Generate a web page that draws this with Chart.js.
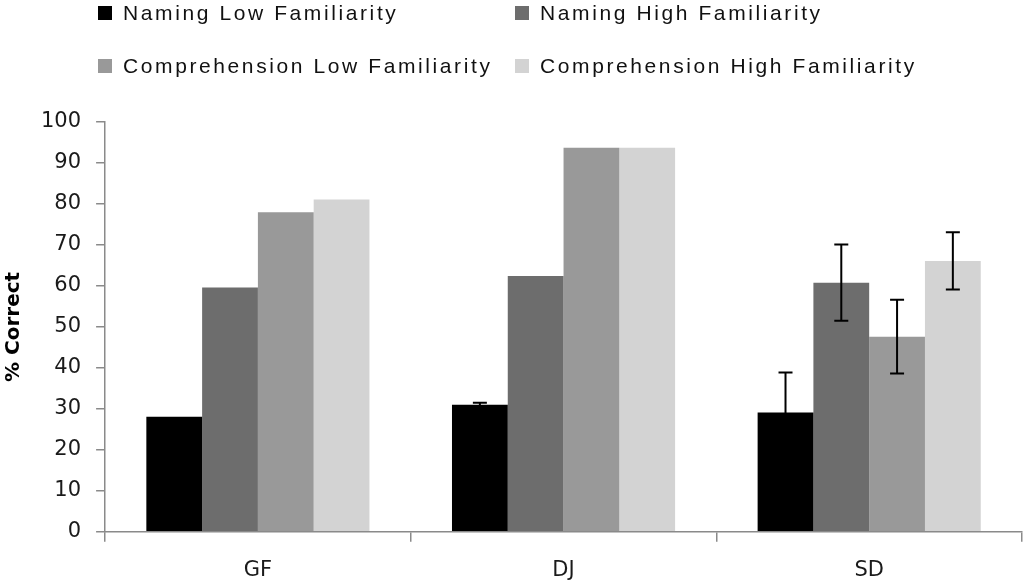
<!DOCTYPE html>
<html>
<head>
<meta charset="utf-8">
<script src="https://cdn.jsdelivr.net/npm/chart.js"></script>
<style>
  body { margin: 0; background: #fff; }
  #wrap { position: relative; width: 1026px; height: 580px; }
  #legend { position: absolute; left: 98px; top: 0; width: 920px;
            font-family: "Liberation Sans", sans-serif; font-size: 21px; color: #111; letter-spacing: 2.6px; }
  .item { position: absolute; display: flex; align-items: center; white-space: nowrap; }
  .box { width: 14px; height: 14px; margin-right: 11px; }
</style>
</head>
<body>
<div id="wrap">
  <canvas id="myChart" width="1026" height="580"></canvas>
  <div id="legend"></div>
</div>
<script>
// chart values
const categories = ["GF", "DJ", "SD"];
const seriesNames = ["Naming Low Familiarity", "Naming High Familiarity",
                     "Comprehension Low Familiarity", "Comprehension High Familiarity"];
const namingLow = [28.1, 31.0, 29.1];
const namingHigh = [59.6, 62.4, 60.8];
const compLow = [78.0, 93.7, 47.6];
const compHigh = [81.1, 93.7, 66.1];
// error bars (+/-), SD only (plus a tiny one on DJ)
const errNamingLow = [0, 0.5, 9.8];
const errNamingHigh = [0, 0, 9.3];
const errCompLow = [0, 0, 9.0];
const errCompHigh = [0, 0, 7.0];
const yTicks = { min: 0, max: 100, step: 10 };

const colors = ["#000000", "#6d6d6d", "#999999", "#d3d3d3"];
const values = [namingLow, namingHigh, compLow, compHigh];
const errors = [errNamingLow, errNamingHigh, errCompLow, errCompHigh];

// legend, two rows by two columns
const legendPos = [[0, 1], [417, 1], [0, 54], [417, 54]];
const legendEl = document.getElementById("legend");
seriesNames.forEach((name, i) => {
  const d = document.createElement("div");
  d.className = "item";
  d.style.left = legendPos[i][0] + "px";
  d.style.top = legendPos[i][1] + "px";
  d.innerHTML = '<span class="box" style="background:' + colors[i] + '"></span>' + name;
  legendEl.appendChild(d);
});

const errorBars = {
  id: "errorBars",
  afterDatasetsDraw(chart) {
    const ctx = chart.ctx;
    const y = chart.scales.y;
    chart.data.datasets.forEach((ds, i) => {
      chart.getDatasetMeta(i).data.forEach((bar, j) => {
        const err = ds.errors[j];
        if (!err) return;
        const top = y.getPixelForValue(ds.data[j] + err);
        const bottom = y.getPixelForValue(ds.data[j] - err);
        ctx.save();
        ctx.strokeStyle = "#000";
        ctx.lineWidth = 2;
        ctx.beginPath();
        ctx.moveTo(bar.x, top); ctx.lineTo(bar.x, bottom);
        ctx.moveTo(bar.x - 7, top); ctx.lineTo(bar.x + 7, top);
        ctx.moveTo(bar.x - 7, bottom); ctx.lineTo(bar.x + 7, bottom);
        ctx.stroke();
        ctx.restore();
      });
    });
  }
};

const tickFont = { family: "DejaVu Sans", size: 21 };

new Chart("myChart", {
  type: "bar",
  data: {
    labels: categories,
    datasets: seriesNames.map((name, i) => ({
      label: name,
      data: values[i],
      errors: errors[i],
      backgroundColor: colors[i],
      borderWidth: 0,
      barPercentage: 1,
      categoryPercentage: 0.73
    }))
  },
  options: {
    responsive: false,
    animation: false,
    layout: { padding: { top: 122, right: 4, left: 0, bottom: -19 } },
    plugins: { legend: { display: false }, tooltip: { enabled: false } },
    scales: {
      x: {
        grid: { offset: true, drawOnChartArea: false, tickLength: 10, color: "#8a8a8a", lineWidth: 1.5 },
        border: { color: "#8a8a8a", width: 1.5 },
        ticks: { font: tickFont, color: "#1a1a1a", padding: 16 }
      },
      y: {
        min: yTicks.min, max: yTicks.max,
        grid: { drawOnChartArea: false, tickLength: 9, color: "#8a8a8a", lineWidth: 1.5 },
        border: { color: "#8a8a8a", width: 1.5 },
        ticks: { stepSize: yTicks.step, font: tickFont, color: "#1a1a1a", padding: 15 },
        title: { display: true, text: "% Correct", color: "#000",
                 font: { family: "DejaVu Sans", size: 20, weight: "bold" }, padding: { top: 2, bottom: 0 } }
      }
    }
  },
  plugins: [errorBars]
});
</script>
</body>
</html>
